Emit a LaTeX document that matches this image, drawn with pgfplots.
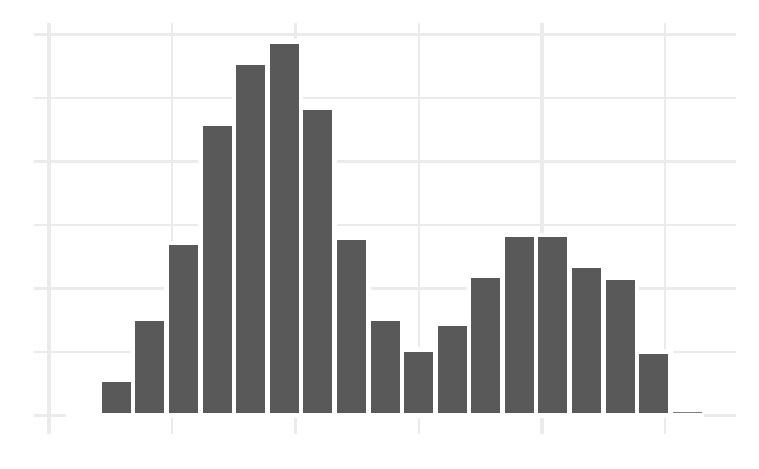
\documentclass[border=0pt]{standalone}
\usepackage{pgfplots}
\pgfplotsset{compat=1.18}
\definecolor{gridgray}{HTML}{EBEBEB}
\definecolor{barfill}{HTML}{595959}
\begin{document}
\begin{tikzpicture}
\path[use as bounding box, fill=white] (-34pt,-34pt) rectangle (725pt,434pt);
\begin{axis}[
  at={(0pt,0pt)}, anchor=south west,
  scale only axis, width=702pt, height=411pt,
  xmin=-1.45, xmax=19.45, ymin=-0.2945, ymax=6.1845,
  xtick={-1,6.3356,13.6712}, minor xtick={2.6678,10.0034,17.339},
  ytick={0,2,4,6}, minor ytick={1,3,5},
  xticklabels={,,}, yticklabels={,,,},
  major tick length=0pt, minor tick length=0pt,
  axis line style={draw=none},
  grid=both,
  major grid style={color=gridgray, line width=3.4pt},
  minor grid style={color=gridgray, line width=1.7pt},
]
\addplot[ybar, bar width=1, fill=barfill, draw=white, line width=4.6pt] coordinates {
(0,0) (1,0.567) (2,1.521) (3,2.718) (4,4.603) (5,5.564) (6,5.890) (7,4.850)
(8,2.803) (9,1.521) (10,1.039) (11,1.443) (12,2.205) (13,2.844) (14,2.844)
(15,2.362) (16,2.162) (17,1.008) (18,0)
};
\addplot[draw=gray, line width=1pt] coordinates {(17.567,0.047) (18.43,0.047)};
\end{axis}
\end{tikzpicture}
\end{document}
